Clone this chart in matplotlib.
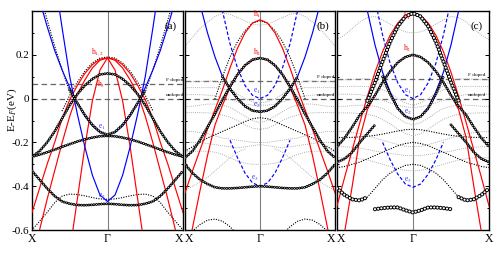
import numpy as np
import matplotlib
matplotlib.use('Agg')
import matplotlib.pyplot as plt

plt.rcParams['font.family'] = ['Liberation Serif', 'DejaVu Serif']
plt.rcParams['mathtext.fontset'] = 'stix'
plt.rcParams['lines.scale_dashes'] = False

nan = np.nan
# k from Gamma (0) to X (1); bands are mirrored about Gamma
K_HALF = [0.0, 0.1, 0.2, 0.3, 0.4, 0.5, 0.6, 0.7, 0.8, 0.9, 1.0]
X_TICKS = [-1, 0, 1]
X_LABELS = ['X', '\u0393', 'X']
Y_TICKS = [-0.6, -0.4, -0.2, 0.0, 0.2]
Y_LABELS = ['-0.6', '-0.4', '-0.2', '0', '0.2']
PANEL_NAMES = ['(a)', '(b)', '(c)']
F_DOPED = [0.068, 0.082, 0.09]
UNDOPED = [0.0, 0.0, 0.0]

# ---------------- panel (a) ----------------
a_h12a = [0.186, 0.18, 0.155, 0.115, 0.06, -0.005, -0.09, -0.2, -0.3, -0.41, -0.52]
a_h12b = [0.186, 0.175, 0.14, 0.085, 0.02, -0.08, -0.2, -0.33, -0.46, -0.6, -0.73]
a_lh = [0.186, 0.13, -0.01, -0.22, -0.46, -0.7, -0.95, nan, nan, nan, nan]
a_e1 = [-0.165, -0.155, -0.125, -0.08, -0.02, 0.05, 0.13, 0.22, 0.33, 0.45, nan]
a_e2 = [-0.47, -0.44, -0.35, -0.22, -0.07, 0.1, 0.32, 0.55, nan, nan, nan]
a_h3_c = [0.115, 0.11, 0.09, 0.06, 0.02, -0.03, -0.09, -0.15, -0.2, -0.24, -0.265]
a_e1_c = [-0.165, -0.152, -0.12, -0.075, -0.02, 0.04, nan, nan, nan, nan, nan]
a_flat_c = [-0.17, -0.172, -0.178, -0.186, -0.196, -0.208, -0.22, -0.233, -0.245, -0.256, -0.265]
a_low_c = [-0.48, -0.482, -0.485, -0.487, -0.486, -0.48, -0.47, -0.445, -0.41, -0.37, -0.33]
a_e1_d = [nan, nan, nan, nan, -0.02, 0.03, 0.13, 0.24, 0.36, 0.48, nan]
a_low_d = [-0.46, -0.458, -0.452, -0.444, -0.438, -0.436, -0.445, -0.475, -0.52, -0.56, -0.6]
a_h_d = [0.19, 0.185, 0.163, 0.125, 0.075, 0.015, -0.055, nan, nan, nan, nan]

# ---------------- panel (b) ----------------
b_h1 = [0.36, 0.345, 0.3, 0.23, 0.14, 0.04, -0.05, -0.14, -0.235, -0.33, -0.43]
b_h2 = [0.185, 0.175, 0.15, 0.108, 0.05, -0.03, -0.12, -0.26, -0.42, -0.59, -0.76]
b_e1 = [0.0, 0.015, 0.06, 0.14, 0.25, 0.4, 0.57, nan, nan, nan, nan]
b_e2 = [-0.06, -0.055, -0.035, 0.0, 0.04, 0.1, 0.19, 0.3, 0.43, nan, nan]
b_e3 = [-0.4, -0.385, -0.34, -0.27, -0.19, nan, nan, nan, nan, nan, nan]
b_h2_c = [0.185, 0.178, 0.152, 0.11, 0.055, -0.005, -0.07, -0.13, -0.19, -0.24, -0.27]
b_e2_c = [-0.06, -0.055, -0.035, 0.0, 0.045, 0.1, nan, nan, nan, nan, nan]
b_low_c = [-0.4, -0.402, -0.405, -0.408, -0.41, -0.41, -0.405, -0.39, -0.37, -0.34, -0.3]
b_h1_d = [0.355, 0.345, 0.31, 0.26, 0.19, 0.1, 0.0, nan, nan, nan, nan]
b_mid_d = [-0.087, -0.092, -0.105, -0.12, -0.135, -0.15, -0.165, -0.18, -0.2, -0.22, -0.24]
b_bot_d = [nan, nan, nan, -0.62, -0.585, -0.56, -0.55, -0.555, -0.575, -0.605, nan]
b_g1 = [0.335, 0.34, 0.355, 0.37, 0.385, 0.39, 0.375, 0.35, 0.32, 0.28, 0.24]
b_g2 = [nan, nan, nan, 0.02, 0.05, 0.07, 0.08, 0.08, 0.078, 0.077, 0.077]
b_g3 = [-0.02, -0.015, 0.0, 0.02, 0.035, 0.045, 0.05, 0.05, 0.05, 0.05, 0.05]
b_g4 = [-0.03, -0.03, -0.025, -0.015, -0.005, 0.005, 0.012, 0.016, 0.018, 0.018, 0.018]
b_g5 = [-0.11, -0.1, -0.08, -0.06, -0.04, -0.03, -0.025, -0.025, -0.03, -0.035, -0.036]
b_g6 = [-0.14, -0.135, -0.12, -0.1, -0.085, -0.075, -0.068, -0.065, -0.064, -0.064, -0.064]
b_g7 = [-0.2, -0.2, -0.195, -0.19, -0.185, -0.18, -0.17, -0.16, -0.155, -0.15, -0.15]
b_g8 = [-0.21, -0.215, -0.22, -0.225, -0.22, -0.215, -0.21, -0.205, -0.2, -0.2, -0.2]
b_g9 = [-0.3, -0.3, -0.295, -0.285, -0.27, -0.255, -0.245, -0.24, -0.24, -0.24, -0.24]
b_g10 = [nan, nan, -0.23, -0.245, -0.27, -0.3, -0.33, -0.36, -0.38, -0.4, -0.42]

# ---------------- panel (c) ----------------
c_h1 = [0.39, 0.38, 0.345, 0.29, 0.215, 0.12, 0.01, -0.11, -0.235, -0.36, -0.49]
c_h2 = [0.2, 0.19, 0.165, 0.125, 0.075, 0.015, -0.05, -0.18, -0.4, -0.61, -0.82]
c_e1 = [0.0, 0.018, 0.072, 0.16, 0.29, 0.45, nan, nan, nan, nan, nan]
c_e2 = [-0.095, -0.08, -0.04, 0.03, 0.12, 0.245, 0.4, nan, nan, nan, nan]
c_e3 = [-0.405, -0.39, -0.345, -0.28, -0.2, nan, nan, nan, nan, nan, nan]
c_h1_c = [0.39, 0.375, 0.33, 0.26, 0.17, 0.075, -0.01, nan, nan, nan, nan]
c_h2_c = [0.2, 0.19, 0.165, 0.125, 0.075, 0.015, -0.035, -0.075, -0.13, -0.18, -0.22]
c_e2_c = [-0.095, -0.082, -0.045, 0.02, 0.1, nan, nan, nan, nan, nan, nan]
c_x2_c = [nan, nan, nan, nan, nan, -0.12, -0.16, -0.2, -0.245, -0.275, -0.29]
c_mid_d = [-0.14, -0.142, -0.148, -0.155, -0.162, -0.168, -0.172, -0.175, -0.177, -0.178, -0.178]
c_j_c = [nan, nan, nan, nan, nan, nan, -0.45, -0.465, -0.46, -0.44, -0.41]
c_bot_c = [-0.52, -0.51, -0.497, -0.497, -0.5, -0.505, nan, nan, nan, nan, nan]
c_j_d = [-0.3, -0.305, -0.32, -0.34, -0.37, -0.41, -0.45, nan, nan, nan, nan]
c_low_d = [-0.2, -0.205, -0.215, -0.23, -0.245, -0.26, -0.275, -0.29, -0.3, -0.31, -0.315]
c_g1 = [0.3, 0.305, 0.32, 0.34, 0.36, 0.375, 0.37, 0.35, 0.32, 0.29, 0.27]
c_g2 = [nan, nan, nan, 0.03, 0.06, 0.08, 0.09, 0.09, 0.088, 0.086, 0.085]
c_g3 = [-0.03, -0.02, 0.0, 0.025, 0.04, 0.05, 0.055, 0.056, 0.056, 0.055, 0.055]
c_g4 = [-0.04, -0.038, -0.03, -0.02, -0.008, 0.004, 0.012, 0.018, 0.02, 0.02, 0.02]
c_g5 = [-0.12, -0.11, -0.09, -0.065, -0.045, -0.035, -0.03, -0.03, -0.032, -0.035, -0.036]
c_g6 = [-0.17, -0.16, -0.14, -0.115, -0.095, -0.08, -0.072, -0.068, -0.066, -0.065, -0.065]
c_g7 = [-0.22, -0.218, -0.21, -0.2, -0.19, -0.18, -0.17, -0.16, -0.155, -0.15, -0.15]
c_g8 = [-0.26, -0.26, -0.255, -0.25, -0.245, -0.24, -0.232, -0.226, -0.222, -0.22, -0.22]
c_g9 = [-0.33, -0.328, -0.32, -0.31, -0.3, -0.29, -0.28, -0.275, -0.27, -0.27, -0.27]

# bands and their drawing style, per panel
PANELS = [
    [(a_low_d, 'dots'), (a_e1_d, 'dots'), (a_h_d, 'dots'),
     (a_h12a, 'red'), (a_h12b, 'red'), (a_lh, 'red'),
     (a_e1, 'blue'), (a_e2, 'blue'),
     (a_flat_c, 'circ'), (a_low_c, 'circ'), (a_h3_c, 'circ'), (a_e1_c, 'circ')],
    [(b_g1, 'gray'), (b_g2, 'gray'), (b_g3, 'gray'), (b_g4, 'gray'), (b_g5, 'gray'),
     (b_g6, 'gray'), (b_g7, 'gray'), (b_g8, 'gray'), (b_g9, 'gray'), (b_g10, 'gray'),
     (b_h1_d, 'dots'), (b_mid_d, 'dots'), (b_bot_d, 'dots'),
     (b_h1, 'red'), (b_h2, 'red'),
     (b_e1, 'blued'), (b_e2, 'blue'), (b_e3, 'blued'),
     (b_low_c, 'circ'), (b_h2_c, 'circ'), (b_e2_c, 'circ')],
    [(c_g1, 'gray'), (c_g2, 'gray'), (c_g3, 'gray'), (c_g4, 'gray'), (c_g5, 'gray'),
     (c_g6, 'gray'), (c_g7, 'gray'), (c_g8, 'gray'), (c_g9, 'gray'),
     (c_j_d, 'dots'), (c_low_d, 'dots'), (c_mid_d, 'dots'),
     (c_h1, 'red'), (c_h2, 'red'),
     (c_e1, 'blued'), (c_e2, 'blue'), (c_e3, 'blued'),
     (c_h2_c, 'circ'), (c_e2_c, 'circ'), (c_x2_c, 'circ'),
     (c_h1_c, 'bigcirc'), (c_j_c, 'bigcirc'), (c_bot_c, 'bigcirc')],
]

# band labels: (text, k, E, color)
LABELS = [
    [('h$_{1,2}$', -0.13, 0.215, 'red'), ('h$_3$', -0.09, 0.065, 'red'),
     ('e$_1$', -0.07, -0.13, '#3a3aff'), ('e$_2$', -0.07, -0.445, '#3a3aff')],
    [('h$_1$', -0.04, 0.385, 'red'), ('h$_2$', -0.04, 0.21, 'red'),
     ('e$_1$', -0.04, 0.035, '#3a3aff'), ('e$_2$', -0.04, -0.03, '#3a3aff'),
     ('e$_3$', -0.07, -0.365, '#3a3aff')],
    [('h$_1$', -0.08, 0.375, 'red'), ('h$_2$', -0.07, 0.23, 'red'),
     ('e$_1$', -0.07, 0.035, '#3a3aff'), ('e$_2$', -0.07, -0.065, '#3a3aff'),
     ('e$_3$', -0.07, -0.375, '#3a3aff')],
]
DOPE_TEXT_K = [0.77, 0.76, 0.72]


def mirror(e):
    k = np.array(K_HALF)
    e = np.array(e, dtype=float)
    return np.concatenate([-k[::-1], k[1:]]), np.concatenate([e[::-1], e[1:]])


def draw(ax, e, style):
    k, E = mirror(e)
    if style == 'red':
        ax.plot(k, E, color='red', lw=0.85, zorder=4)
    elif style == 'blue':
        ax.plot(k, E, color='blue', lw=0.85, zorder=4)
    elif style == 'blued':
        ax.plot(k, E, color='blue', lw=0.85, dashes=(2.5, 1.5), zorder=4)
    elif style == 'gray':
        ax.plot(k, E, color='0.65', lw=0.8, dashes=(0.01, 1.5),
                dash_capstyle='round', zorder=2)
    elif style == 'dots':
        ax.plot(k, E, color='k', lw=1.0, dashes=(0.01, 1.8),
                dash_capstyle='round', zorder=3)
    elif style == 'circ':
        ax.plot(k, E, color='k', lw=2.1, dashes=(0.01, 1.8),
                dash_capstyle='round', zorder=5)
        ax.plot(k, E, color='white', lw=0.8, dashes=(0.01, 1.8),
                dash_capstyle='round', zorder=5)
    elif style == 'bigcirc':
        ax.plot(k, E, color='k', lw=3.0, dashes=(0.01, 2.3),
                dash_capstyle='round', zorder=5)
        ax.plot(k, E, color='white', lw=1.6, dashes=(0.01, 2.3),
                dash_capstyle='round', zorder=5)


fig = plt.figure(figsize=(4.98, 2.58), dpi=100)
W, H = 498.0, 258.0
lefts = [32, 185, 337]
widths = [151, 150, 152]
top_px, bot_px = 11, 230

for i in range(3):
    ax = fig.add_axes([lefts[i] / W, 1 - bot_px / H, widths[i] / W, (bot_px - top_px) / H])
    ax.set_xlim(-1, 1)
    ax.set_ylim(-0.6, 0.4)
    ax.axvline(0, color='0.5', lw=0.8, zorder=1)
    ax.axhline(F_DOPED[i], color='0.4', lw=0.9, dashes=(4, 2.5), zorder=1)
    ax.axhline(UNDOPED[i], color='0.4', lw=0.9, dashes=(4, 2.5), zorder=1)
    for e, style in PANELS[i]:
        draw(ax, e, style)
    for txt, k, E, col in LABELS[i]:
        ax.text(k, E, txt, color=col, fontsize=5.5, ha='center', va='center', zorder=6)
    ax.text(DOPE_TEXT_K[i], F_DOPED[i] + 0.008, 'F doped', fontsize=3.8,
            ha='left', va='bottom', zorder=6)
    ax.text(DOPE_TEXT_K[i], UNDOPED[i] + 0.008, 'undoped', fontsize=3.8,
            ha='left', va='bottom', zorder=6)
    ax.text(0.96, 0.93, PANEL_NAMES[i], transform=ax.transAxes, fontsize=8,
            ha='right', va='center', zorder=6)
    ax.set_xticks(X_TICKS)
    labs = ax.set_xticklabels(X_LABELS, fontsize=8.5)
    if i > 0:
        labs[0].set_horizontalalignment('left')
    if i < 2:
        labs[2].set_horizontalalignment('right')
    ax.set_yticks(Y_TICKS)
    ax.set_yticks(np.arange(-0.6, 0.41, 0.1), minor=True)
    ax.tick_params(axis='both', which='both', direction='in', right=True,
                   top=False, width=0.7, pad=2)
    ax.tick_params(axis='y', which='major', length=3)
    ax.tick_params(axis='y', which='minor', length=1.5)
    ax.tick_params(axis='x', length=0)
    if i == 0:
        ax.set_yticklabels(Y_LABELS, fontsize=8)
        ax.set_ylabel('E-E$_F$(eV)', fontsize=8)
        ax.yaxis.set_label_coords(-0.085, 0.55)
    else:
        ax.set_yticklabels([])
    for sp in ax.spines.values():
        sp.set_linewidth(1.0)

fig.savefig('out.png', dpi=100)
